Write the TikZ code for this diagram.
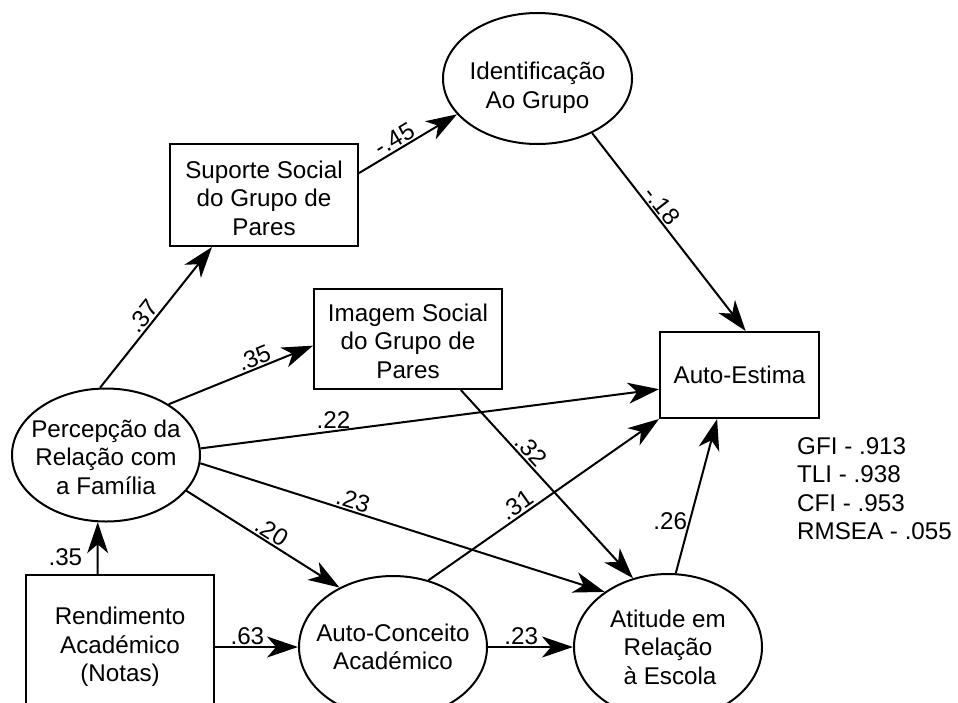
\documentclass[tikz,border=0pt]{standalone}
\usepackage{fontspec}
\setmainfont{Liberation Sans}
\usetikzlibrary{arrows.meta,shapes.geometric}
\begin{document}
\begin{tikzpicture}[x=1pt,y=-1pt,
  every node/.style={font=\fontsize{24.2}{28.5}\selectfont},
  box/.style={draw,line width=2pt,rectangle,align=center,inner sep=0pt},
  ell/.style={draw,line width=2pt,ellipse,align=center,inner xsep=-18pt,inner ysep=0pt},
  arr/.style={line width=2pt,-{Stealth[length=31pt,width=21pt,inset=9pt]}},
  lab/.style={inner sep=1.5pt},
]
\clip (0,0) rectangle (958,702);
\fill[white] (0,0) rectangle (958,702);

% nodes
\node[ell,minimum width=189pt,minimum height=131pt] (ident) at (537.5,78.5) {\rule{0pt}{36pt}Identificação\\Ao Grupo};
\node[box,minimum width=188pt,minimum height=102pt] (sup) at (264,195) {\rule{0pt}{24pt}Suporte Social\\do Grupo de\\Pares};
\node[box,minimum width=188pt,minimum height=100pt] (img) at (408,339) {\rule{0pt}{22pt}Imagem Social\\do Grupo de\\Pares};
\node[box,minimum width=159pt,minimum height=86pt] (ae) at (739.5,375) {Auto-Estima};
\node[ell,minimum width=188pt,minimum height=133pt] (perc) at (106,455) {\rule{0pt}{22pt}Percepção da\\Relação com\\a Família};
\node[box,minimum width=188pt,minimum height=144pt] (rend) at (120,647) {Rendimento\\Académico\\(Notas)};
\node[ell,minimum width=188pt,minimum height=142pt] (ac) at (393,647) {Auto-Conceito\\Académico};
\node[ell,minimum width=188pt,minimum height=146pt] (at) at (668,647) {Atitude em\\Relação\\\,à Escola};
\node[anchor=north west,align=left,inner sep=0pt] (fit) at (797,437) {GFI - .913\\TLI - .938\\CFI - .953\\RMSEA - .055};

% paths
\draw[arr] (perc.95.1) -- node[lab,pos=.46,sloped,above] (l1) {.37} (sup.225);
\draw[arr] (sup.13.7) -- node[lab,pos=.42,sloped,above] (l2) {-.45} (ident.204.7);
\draw[arr] (ident.315.5) -- node[lab,pos=.40,sloped,above] (l3) {-.18} (ae.82.7);
\draw[arr] (perc.39.1) -- node[lab,pos=.62,sloped,above] (l4) {.35} (img.184.8);
\draw[arr] (perc.4.9) -- node[lab,pos=.29,above] (l5) {.22} (ae.190);
\draw[arr] (perc.355.7) -- node[lab,pos=.37,sloped,above] (l6) {.23} (at.139.2);
\draw[arr] (perc.336.1) -- node[lab,pos=.52,sloped,above] (l7) {.20} (ac.132.8);
\draw[arr] (rend.107) -- node[lab,pos=.32,left,xshift=-13pt] (l8) {.35} (perc.263.1);
\draw[arr] (rend.east) -- node[lab,pos=.39,above] (l9) {.63} (ac.west);
\draw[arr] (ac.62.1) -- node[lab,pos=.41,sloped,above] (l10) {.31} (ae.south west);
\draw[arr] (img.316.1) -- node[lab,pos=.36,sloped,above] (l11) {.32} (at.117.8);
\draw[arr] (ac.east) -- node[lab,pos=.39,above] (l12) {.23} (at.west);
\draw[arr] (at.84.4) -- node[lab,pos=.335,left] (l13) {.26} (ae.243.4);
\end{tikzpicture}
\end{document}
